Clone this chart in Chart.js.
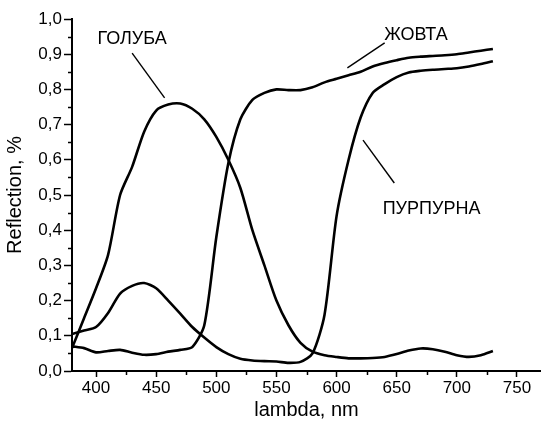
<!DOCTYPE html>
<html>
<head>
<meta charset="utf-8">
<script src="https://cdn.jsdelivr.net/npm/chart.js@4.4.1/dist/chart.umd.min.js"></script>
<style>
  html, body { margin: 0; padding: 0; background: #fff; }
  #wrap { width: 541px; height: 422px; }
</style>
</head>
<body>
<div id="wrap"><canvas id="chart" width="541" height="422"></canvas></div>
<script>
// wavelengths, nm
const lambda = [380, 390, 400, 410, 420, 430, 440, 450, 460, 470, 480, 490, 500, 510, 520, 530, 540, 550,
  560, 570, 580, 590, 600, 610, 620, 630, 640, 650, 660, 670, 680, 690, 700, 710, 720, 730];

// reflection curves
const holuba = [0.065, 0.15, 0.235, 0.33, 0.5, 0.58, 0.68, 0.74, 0.757, 0.76, 0.745, 0.715, 0.665, 0.6, 0.52, 0.4, 0.3, 0.2,
  0.13, 0.08, 0.055, 0.045, 0.04, 0.036, 0.036, 0.037, 0.04, 0.048, 0.058, 0.064, 0.062, 0.055, 0.045, 0.04, 0.045, 0.057];
const zhovta = [0.07, 0.065, 0.053, 0.057, 0.06, 0.052, 0.046, 0.048, 0.055, 0.06, 0.068, 0.13, 0.38, 0.59, 0.715, 0.77, 0.79, 0.8,
  0.798, 0.798, 0.806, 0.82, 0.83, 0.84, 0.85, 0.865, 0.875, 0.883, 0.89, 0.893, 0.895, 0.897, 0.9, 0.905, 0.91, 0.915];
const purpurna = [0.105, 0.115, 0.125, 0.165, 0.22, 0.242, 0.25, 0.235, 0.2, 0.163, 0.125, 0.095, 0.068, 0.048, 0.035, 0.03, 0.028, 0.027,
  0.023, 0.026, 0.05, 0.16, 0.44, 0.6, 0.72, 0.79, 0.815, 0.835, 0.848, 0.853, 0.856, 0.858, 0.86, 0.865, 0.872, 0.88];

const xTicks = [400, 450, 500, 550, 600, 650, 700, 750];
const xMinor = [425, 475, 525, 575, 625, 675, 725];
const yMinor = [0.05, 0.15, 0.25, 0.35, 0.45, 0.55, 0.65, 0.75, 0.85, 0.95];

// curve labels: [text, x, y, leader from x, y, leader to x, y] in data units
const labels = [
  ["ГОЛУБА", 430, 0.943, 430, 0.903, 457, 0.776],
  ["ЖОВТА", 666, 0.955, 640, 0.932, 609, 0.861],
  ["ПУРПУРНА", 679, 0.46, 648, 0.534, 622, 0.656],
];

Chart.defaults.font.family = "'Liberation Sans', Arial, sans-serif";
Chart.defaults.color = "#000";

const toData = (ys) => ys.map((y, i) => ({ x: lambda[i], y }));
const lineSet = (name, ys) => ({
  label: name, data: toData(ys), borderColor: "#000", borderWidth: 2.6,
  pointRadius: 0, tension: 0.25, fill: false,
});

const extras = {
  id: "extras",
  afterDraw(chart) {
    const { ctx, scales: { x, y } } = chart;
    ctx.save();
    ctx.strokeStyle = "#000";
    ctx.lineWidth = 1.5;
    ctx.beginPath();
    xMinor.forEach((v) => {
      const px = Math.round(x.getPixelForValue(v)) + 0.5;
      ctx.moveTo(px, y.bottom);
      ctx.lineTo(px, y.bottom + 4);
    });
    yMinor.forEach((v) => {
      const py = Math.round(y.getPixelForValue(v)) + 0.5;
      ctx.moveTo(x.left, py);
      ctx.lineTo(x.left - 4, py);
    });
    ctx.stroke();

    ctx.fillStyle = "#000";
    ctx.font = "18px 'Liberation Sans', Arial, sans-serif";
    ctx.textAlign = "center";
    ctx.textBaseline = "middle";
    ctx.lineWidth = 1.4;
    labels.forEach(([t, tx, ty, x1, y1, x2, y2]) => {
      ctx.fillText(t, x.getPixelForValue(tx), y.getPixelForValue(ty));
      ctx.beginPath();
      ctx.moveTo(x.getPixelForValue(x1), y.getPixelForValue(y1));
      ctx.lineTo(x.getPixelForValue(x2), y.getPixelForValue(y2));
      ctx.stroke();
    });
    ctx.restore();
  },
};

new Chart(document.getElementById("chart"), {
  type: "line",
  data: {
    datasets: [
      lineSet("ГОЛУБА", holuba),
      lineSet("ЖОВТА", zhovta),
      lineSet("ПУРПУРНА", purpurna),
    ],
  },
  options: {
    responsive: false,
    animation: false,
    layout: { padding: { top: 19, right: 0, bottom: 0, left: 0 } },
    plugins: { legend: { display: false }, tooltip: { enabled: false } },
    scales: {
      x: {
        type: "linear", min: 380, max: 770,
        afterBuildTicks: (s) => { s.ticks = xTicks.map((v) => ({ value: v })); },
        afterFit: (s) => { s.height = 51; },
        ticks: { font: { size: 17 }, padding: 1, maxRotation: 0 },
        grid: { drawOnChartArea: false, tickLength: 6, tickWidth: 1.5, tickColor: "#000" },
        border: { color: "#000", width: 2 },
        title: { display: true, text: "lambda, nm", font: { size: 20 }, padding: { top: 0, bottom: 0 } },
      },
      y: {
        min: 0, max: 1,
        afterFit: (s) => { s.width = 72; },
        ticks: { stepSize: 0.1, font: { size: 17 }, padding: 2, callback: (v) => v.toFixed(1).replace(".", ",") },
        grid: { drawOnChartArea: false, tickLength: 8, tickWidth: 1.5, tickColor: "#000" },
        border: { color: "#000", width: 2 },
        title: { display: true, text: "Reflection, %", font: { size: 20 }, padding: { top: 3, bottom: 0 } },
      },
    },
  },
  plugins: [extras],
});
</script>
</body>
</html>
